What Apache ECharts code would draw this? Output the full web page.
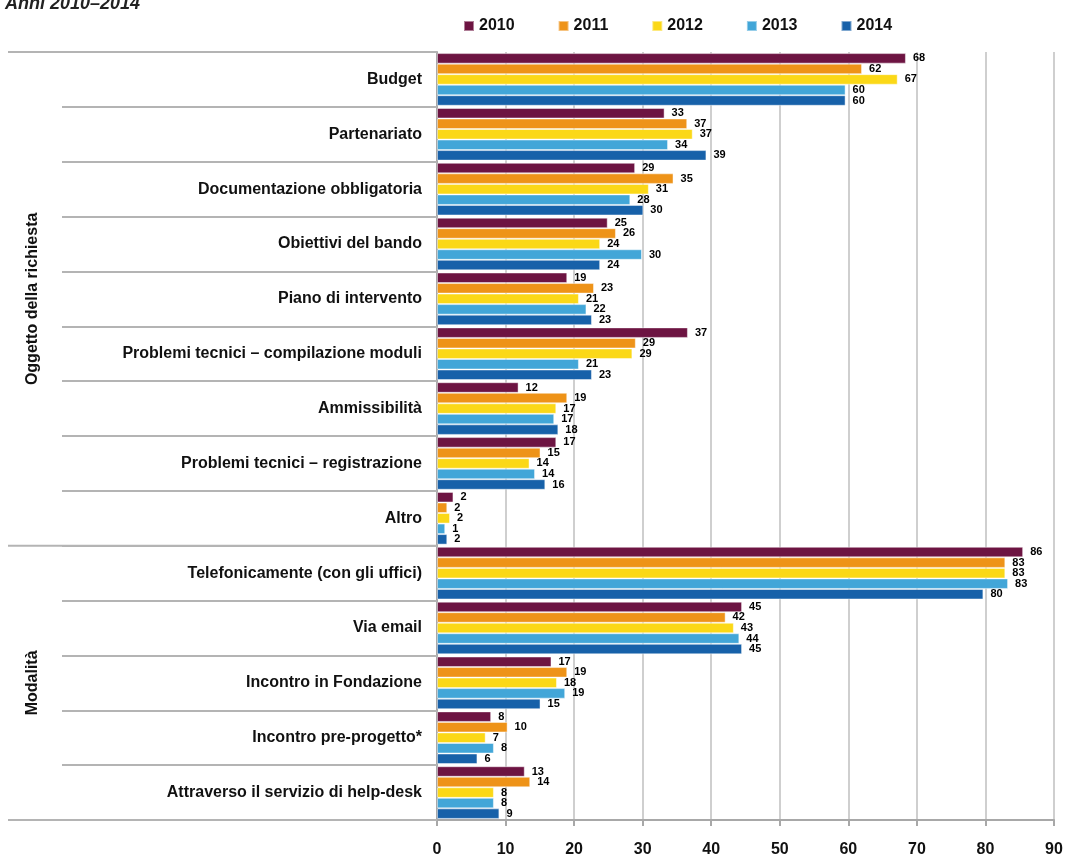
<!DOCTYPE html>
<html><head><meta charset="utf-8">
<script src="https://cdn.jsdelivr.net/npm/echarts@6/dist/echarts.min.js"></script>
<style>html,body{margin:0;padding:0;background:#fff}#c{width:1066px;height:859px}</style>
</head><body><div id="c"></div>
<script>
const titleText = 'Anni 2010–2014';
const categories = [
  'Budget', 'Partenariato', 'Documentazione obbligatoria', 'Obiettivi del bando',
  'Piano di intervento', 'Problemi tecnici – compilazione moduli', 'Ammissibilità',
  'Problemi tecnici – registrazione', 'Altro',
  'Telefonicamente (con gli uffici)', 'Via email', 'Incontro in Fondazione',
  'Incontro pre-progetto*', 'Attraverso il servizio di help-desk'
];
const years = ['2010', '2011', '2012', '2013', '2014'];
const v2010 = [68.4, 33.2, 28.9, 24.9, 19.0, 36.6, 11.9, 17.4, 2.4, 85.5, 44.5, 16.7, 7.9, 12.8];
const v2011 = [62.0, 36.5, 34.5, 26.1, 22.9, 29.0, 19.0, 15.1, 1.5, 82.9, 42.1, 19.0, 10.3, 13.6];
const v2012 = [67.2, 37.3, 30.9, 23.8, 20.7, 28.5, 17.4, 13.5, 1.9, 82.9, 43.3, 17.5, 7.1, 8.3];
const v2013 = [59.6, 33.7, 28.2, 29.9, 21.8, 20.7, 17.1, 14.3, 1.2, 83.3, 44.1, 18.7, 8.3, 8.3];
const v2014 = [59.6, 39.3, 30.1, 23.8, 22.6, 22.6, 17.7, 15.8, 1.5, 79.7, 44.5, 15.1, 5.9, 9.1];
const xMin = 0, xMax = 90, xStep = 10;
const groupNames = ['Oggetto della richiesta', 'Modalità'];
const groupStarts = [0, 9];
const groupEnds = [9, 14];

const colors = ['#6d1442', '#ee9318', '#fbd817', '#42a6d8', '#1761a9'];
const seriesValues = [v2010, v2011, v2012, v2013, v2014];
const FONT = 'Liberation Sans, Arial, sans-serif';

const chart = echarts.init(document.getElementById('c'), null, {renderer: 'canvas'});
chart.setOption({
  animation: false,
  backgroundColor: '#fff',
  color: colors,
  title: {
    text: titleText, left: 0, top: -10,
    textStyle: {fontFamily: FONT, fontSize: 18, fontWeight: 'bold', fontStyle: 'italic', color: '#222'}
  },
  legend: {
    data: years, left: 458, top: 13, itemWidth: 10, itemHeight: 10, itemGap: 43, icon: 'rect',
    textStyle: {fontFamily: FONT, fontSize: 16, fontWeight: 'bold', color: '#111'}
  },
  grid: {left: 437, right: 12, top: 52, bottom: 39, containLabel: false},
  xAxis: {
    type: 'value', min: xMin, max: xMax, interval: xStep,
    axisLine: {show: true, lineStyle: {color: '#a8a8a8', width: 2}},
    axisTick: {show: true, length: 6, lineStyle: {color: '#a8a8a8', width: 2}},
    splitLine: {show: true, lineStyle: {color: '#cfcfcf', width: 2}},
    axisLabel: {fontFamily: FONT, fontSize: 16, fontWeight: 'bold', color: '#111', margin: 22}
  },
  yAxis: {
    type: 'category', data: categories, inverse: true,
    axisLine: {show: true, lineStyle: {color: '#a8a8a8', width: 2}},
    axisTick: {show: true, length: 375, lineStyle: {color: '#b4b4b4', width: 2}},
    axisLabel: {fontFamily: FONT, fontSize: 16, fontWeight: 'bold', color: '#111', margin: 15}
  },
  series: years.map((y, i) => ({
    name: y, type: 'bar', data: seriesValues[i],
    barGap: '0%', barCategoryGap: '4%',
    itemStyle: {color: colors[i], borderColor: 'rgba(255,255,255,0.45)', borderWidth: 1},
    label: {
      show: true, position: 'right', distance: 7,
      formatter: p => Math.round(p.value),
      fontFamily: FONT, fontSize: 11, fontWeight: 'bold', color: '#000'
    }
  }))
});

// group separators and group titles, placed from the category scale
const c0 = chart.convertToPixel({yAxisIndex: 0}, categories[0]);
const c1 = chart.convertToPixel({yAxisIndex: 0}, categories[1]);
const band = c1 - c0;
const boundary = idx => c0 + (idx - 0.5) * band;
const axisX = chart.convertToPixel({xAxisIndex: 0}, 0);
const graphics = [];
const lineYs = [boundary(0)].concat(groupEnds.map(boundary));
lineYs.forEach(y => graphics.push({
  type: 'line', shape: {x1: 8, y1: y, x2: axisX, y2: y},
  style: {stroke: '#b4b4b4', lineWidth: 2}, z: 10
}));
groupNames.forEach((g, i) => {
  const mid = (boundary(groupStarts[i]) + boundary(groupEnds[i])) / 2;
  graphics.push({
    type: 'text', x: 33, y: mid, rotation: Math.PI / 2,
    style: {text: g, fontFamily: FONT, fontSize: 16, fontWeight: 'bold', fill: '#111',
            textAlign: 'center', textVerticalAlign: 'middle'}, z: 10
  });
});
chart.setOption({graphic: graphics});
</script>
</body></html>
